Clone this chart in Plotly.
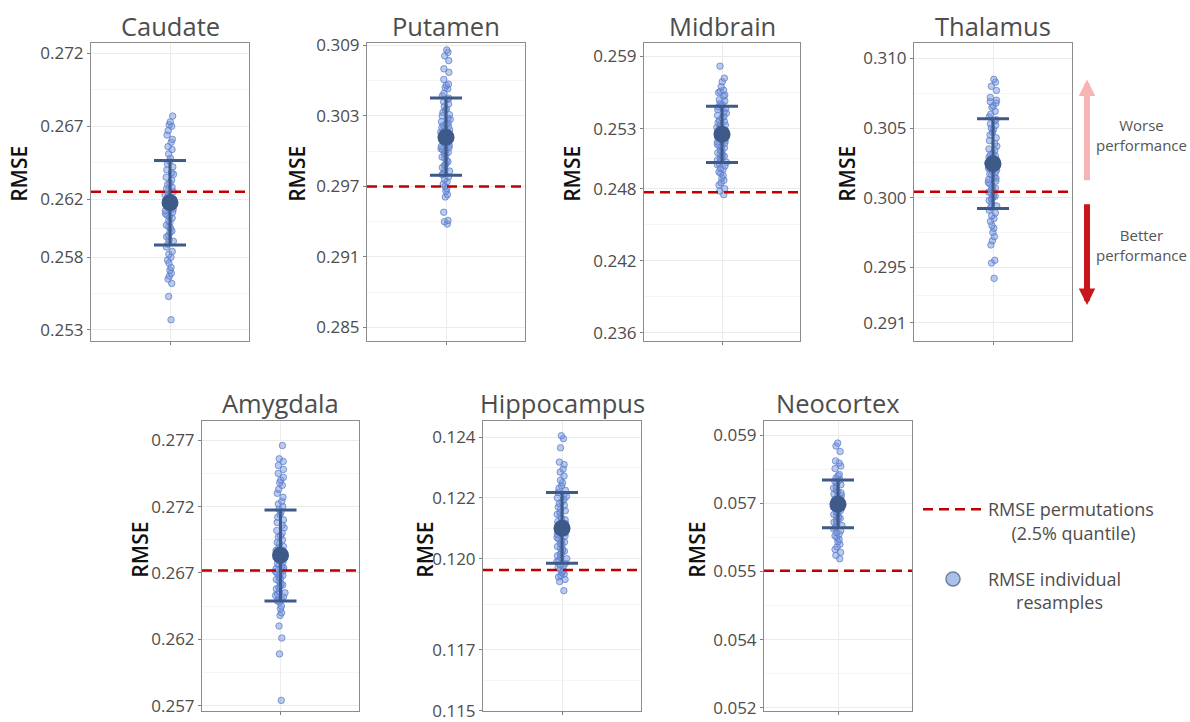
import plotly.graph_objects as go

# ---------------- data ----------------
regions = ["Caudate", "Putamen", "Midbrain", "Thalamus", "Amygdala", "Hippocampus", "Neocortex"]

tick_values = [
    [0.253, 0.258, 0.262, 0.267, 0.272],
    [0.285, 0.291, 0.297, 0.303, 0.309],
    [0.236, 0.242, 0.248, 0.253, 0.259],
    [0.291, 0.295, 0.300, 0.305, 0.310],
    [0.257, 0.262, 0.267, 0.272, 0.277],
    [0.115, 0.117, 0.120, 0.122, 0.124],
    [0.0522, 0.0538, 0.0554, 0.0570, 0.0586],
]
tick_labels = [
    ["0.253", "0.258", "0.262", "0.267", "0.272"],
    ["0.285", "0.291", "0.297", "0.303", "0.309"],
    ["0.236", "0.242", "0.248", "0.253", "0.259"],
    ["0.291", "0.295", "0.300", "0.305", "0.310"],
    ["0.257", "0.262", "0.267", "0.272", "0.277"],
    ["0.115", "0.117", "0.120", "0.122", "0.124"],
    ["0.052", "0.054", "0.055", "0.057", "0.059"],
]

perm_threshold = [0.26250, 0.29700, 0.24771, 0.30042, 0.26718, 0.11963, 0.05542]
mean_rmse = [0.26175, 0.30118, 0.25253, 0.30244, 0.26833, 0.12100, 0.05698]
ci_lower = [0.25883, 0.29794, 0.25019, 0.29922, 0.26488, 0.11985, 0.05643]
ci_upper = [0.26464, 0.30452, 0.25487, 0.30566, 0.27175, 0.12218, 0.05755]

resamples_caudate = [
    0.2677, 0.2673, 0.2671, 0.2670, 0.2667, 0.2664, 0.2661, 0.2659, 0.2656, 0.2654, 0.2651, 0.2648,
    0.2646, 0.2644, 0.2642, 0.2640, 0.2638, 0.2637, 0.2635, 0.2633, 0.2631, 0.2630, 0.2628, 0.2627,
    0.2626, 0.2625, 0.2624, 0.2623, 0.2622, 0.2621, 0.2620, 0.2619, 0.2618, 0.2617, 0.2616, 0.2616,
    0.2615, 0.2614, 0.2613, 0.2612, 0.2611, 0.2610, 0.2609, 0.2608, 0.2607, 0.2605, 0.2604, 0.2602,
    0.2601, 0.2600, 0.2598, 0.2597, 0.2595, 0.2594, 0.2592, 0.2591, 0.2589, 0.2587, 0.2584, 0.2582,
    0.2580, 0.2578, 0.2576, 0.2573, 0.2571, 0.2569, 0.2567, 0.2565, 0.2562, 0.2553, 0.2537,
]
resamples_putamen = [
    0.3086, 0.3084, 0.3081, 0.3077, 0.3070, 0.3067, 0.3061, 0.3057, 0.3056, 0.3054, 0.3053, 0.3049,
    0.3047, 0.3045, 0.3044, 0.3042, 0.3040, 0.3038, 0.3036, 0.3035, 0.3033, 0.3031, 0.3030, 0.3028,
    0.3027, 0.3025, 0.3024, 0.3023, 0.3022, 0.3021, 0.3020, 0.3019, 0.3018, 0.3017, 0.3016, 0.3015,
    0.3014, 0.3013, 0.3012, 0.3011, 0.3010, 0.3009, 0.3008, 0.3007, 0.3006, 0.3005, 0.3004, 0.3003,
    0.3002, 0.3001, 0.3000, 0.2999, 0.2998, 0.2997, 0.2995, 0.2994, 0.2992, 0.2991, 0.2989, 0.2988,
    0.2986, 0.2984, 0.2983, 0.2981, 0.2980, 0.2978, 0.2976, 0.2974, 0.2972, 0.2970, 0.2968, 0.2966,
    0.2963, 0.2961, 0.2948, 0.2941, 0.2940, 0.2938,
]
resamples_midbrain = [
    0.2582, 0.2572, 0.2569, 0.2565, 0.2562, 0.2561, 0.2560, 0.2558, 0.2557, 0.2554, 0.2553, 0.2551,
    0.2550, 0.2549, 0.2548, 0.2547, 0.2546, 0.2544, 0.2543, 0.2541, 0.2540, 0.2539, 0.2537, 0.2536,
    0.2535, 0.2534, 0.2533, 0.2532, 0.2531, 0.2530, 0.2529, 0.2528, 0.2527, 0.2526, 0.2525, 0.2524,
    0.2523, 0.2522, 0.2521, 0.2520, 0.2519, 0.2518, 0.2517, 0.2516, 0.2515, 0.2514, 0.2512, 0.2511,
    0.2510, 0.2509, 0.2508, 0.2507, 0.2506, 0.2505, 0.2504, 0.2503, 0.2502, 0.2501, 0.2500, 0.2499,
    0.2497, 0.2496, 0.2494, 0.2493, 0.2491, 0.2489, 0.2487, 0.2485, 0.2483, 0.2480, 0.2478, 0.2475,
]
resamples_thalamus = [
    0.3085, 0.3083, 0.3080, 0.3077, 0.3072, 0.3070, 0.3069, 0.3068, 0.3066, 0.3065, 0.3062, 0.3060,
    0.3058, 0.3056, 0.3055, 0.3053, 0.3052, 0.3050, 0.3049, 0.3047, 0.3045, 0.3043, 0.3041, 0.3039,
    0.3037, 0.3035, 0.3034, 0.3032, 0.3031, 0.3030, 0.3029, 0.3028, 0.3027, 0.3026, 0.3025, 0.3024,
    0.3023, 0.3022, 0.3021, 0.3020, 0.3019, 0.3018, 0.3017, 0.3016, 0.3015, 0.3014, 0.3013, 0.3012,
    0.3011, 0.3010, 0.3008, 0.3007, 0.3006, 0.3005, 0.3004, 0.3003, 0.3002, 0.3001, 0.3000, 0.2999,
    0.2998, 0.2996, 0.2994, 0.2993, 0.2991, 0.2989, 0.2987, 0.2985, 0.2983, 0.2980, 0.2978, 0.2975,
    0.2972, 0.2969, 0.2966, 0.2955, 0.2953, 0.2942,
]
resamples_amygdala = [
    0.2766, 0.2756, 0.2754, 0.2751, 0.2748, 0.2745, 0.2742, 0.2740, 0.2738, 0.2736, 0.2733, 0.2730,
    0.2727, 0.2724, 0.2722, 0.2720, 0.2718, 0.2716, 0.2714, 0.2712, 0.2710, 0.2708, 0.2706, 0.2704,
    0.2702, 0.2700, 0.2698, 0.2697, 0.2695, 0.2693, 0.2692, 0.2690, 0.2689, 0.2687, 0.2686, 0.2684,
    0.2683, 0.2682, 0.2681, 0.2679, 0.2678, 0.2677, 0.2676, 0.2675, 0.2674, 0.2673, 0.2672, 0.2671,
    0.2670, 0.2669, 0.2668, 0.2667, 0.2666, 0.2665, 0.2664, 0.2662, 0.2661, 0.2660, 0.2659, 0.2658,
    0.2656, 0.2655, 0.2654, 0.2653, 0.2652, 0.2651, 0.2650, 0.2649, 0.2648, 0.2645, 0.2643, 0.2640,
    0.2638, 0.2630, 0.2621, 0.2609, 0.2574,
]
resamples_hippocampus = [
    0.12405, 0.12395, 0.12365, 0.12318, 0.12310, 0.12295, 0.12285, 0.12272, 0.12258, 0.12250,
    0.12240, 0.12232, 0.12225, 0.12218, 0.12212, 0.12205, 0.12200, 0.12195, 0.12188, 0.12182,
    0.12176, 0.12170, 0.12164, 0.12158, 0.12152, 0.12146, 0.12140, 0.12134, 0.12128, 0.12122,
    0.12116, 0.12110, 0.12105, 0.12100, 0.12095, 0.12090, 0.12085, 0.12080, 0.12075, 0.12070,
    0.12065, 0.12060, 0.12055, 0.12050, 0.12045, 0.12040, 0.12035, 0.12030, 0.12025, 0.12020,
    0.12015, 0.12010, 0.12005, 0.12000, 0.11995, 0.11990, 0.11985, 0.11980, 0.11975, 0.11970,
    0.11965, 0.11960, 0.11955, 0.11950, 0.11945, 0.11940, 0.11932, 0.11925, 0.11895,
]
resamples_neocortex = [
    0.05842, 0.05835, 0.05822, 0.05800, 0.05795, 0.05788, 0.05782, 0.05768, 0.05765, 0.05760,
    0.05756, 0.05752, 0.05748, 0.05744, 0.05740, 0.05736, 0.05732, 0.05728, 0.05725, 0.05722,
    0.05719, 0.05716, 0.05713, 0.05710, 0.05707, 0.05704, 0.05701, 0.05698, 0.05695, 0.05692,
    0.05689, 0.05686, 0.05683, 0.05680, 0.05677, 0.05674, 0.05671, 0.05668, 0.05665, 0.05662,
    0.05659, 0.05656, 0.05652, 0.05648, 0.05644, 0.05640, 0.05636, 0.05632, 0.05628, 0.05624,
    0.05620, 0.05615, 0.05610, 0.05604, 0.05598, 0.05592, 0.05585, 0.05578, 0.05570,
]
resamples = [resamples_caudate, resamples_putamen, resamples_midbrain, resamples_thalamus,
             resamples_amygdala, resamples_hippocampus, resamples_neocortex]

# ---------------- layout constants (pixels / styles) ----------------
W, H = 1190, 722
# vertical pixel positions are given in target-picture pixels and mapped through the
# capture's vertical offset/scale
Y_OFF, Y_SCALE = 9.2, 0.978


def vy(y_px):
    return min(max((y_px - Y_OFF) / Y_SCALE, 0.0), float(H))


def paper_y(y_px):
    return 1 - vy(y_px) / H


panel_px_x = [(91, 249), (367, 525), (644, 800), (914, 1072), (202, 359), (483, 641), (764, 912)]
panel_px_y = [(43, 343)] * 4 + [(424, 730)] * 3
y_ranges = [
    (0.25225, 0.27275), (0.28386, 0.30923), (0.23534, 0.26016), (0.28971, 0.31114),
    (0.25660, 0.27842), (0.11499, 0.12452), (0.05212, 0.05893),
]
rmse_title_px = [(19, 175), (297, 175), (572, 175), (847, 175), (140, 553), (425, 553), (697, 553)]
title_y_px = [26] * 4 + [406] * 3
X_RANGE = (-1.0, 1.0)

FONT = "Open Sans"
PT_FILL = "rgba(120,152,222,0.5)"
PT_LINE = "rgba(85,120,200,0.7)"
MEAN_COL = "#3d5a89"
RED = "#c00000"

fig = go.Figure()
layout = dict(
    width=W, height=H, margin=dict(l=0, r=0, t=0, b=0),
    paper_bgcolor="white", plot_bgcolor="white",
    font=dict(family=FONT, color="#4d4d4d"),
    showlegend=True,
)
annotations = []

for i, reg in enumerate(regions):
    k = i + 1
    xa = "x" if k == 1 else f"x{k}"
    ya = "y" if k == 1 else f"y{k}"
    x0, x1 = panel_px_x[i]
    yt, yb = panel_px_y[i]
    tv = tick_values[i]
    minor_vals = [(tv[j] + tv[j + 1]) / 2 for j in range(len(tv) - 1)]

    layout[f"xaxis{k}" if k > 1 else "xaxis"] = dict(
        domain=[x0 / W, x1 / W], anchor=ya, range=list(X_RANGE),
        tickmode="array", tickvals=[0], ticktext=[""], ticks="outside", ticklen=3,
        tickcolor="#7f7f7f", showgrid=True, gridcolor="#ebebeb", gridwidth=1,
        zeroline=False, showline=True, linecolor="#8c8c8c", linewidth=1, mirror=True,
        fixedrange=True,
    )
    layout[f"yaxis{k}" if k > 1 else "yaxis"] = dict(
        domain=[paper_y(yb), paper_y(yt)], anchor=xa, range=list(y_ranges[i]),
        tickmode="array", tickvals=tv, ticktext=tick_labels[i], ticks="outside", ticklen=3,
        tickcolor="#7f7f7f", tickfont=dict(size=17, color="#4d4d4d", family=FONT),
        ticklabeloverflow="allow",
        showgrid=True, gridcolor="#ebebeb", gridwidth=1, zeroline=False,
        minor=dict(tickmode="array", tickvals=minor_vals, showgrid=True,
                   gridcolor="#f5f5f5", gridwidth=1, ticks=""),
        showline=True, linecolor="#8c8c8c", linewidth=1, mirror=True, fixedrange=True,
    )

    vals = resamples[i]
    fig.add_trace(go.Box(
        y=vals, x=[0.0] * len(vals), xaxis=xa, yaxis=ya, name=reg,
        boxpoints="all", jitter=0.45, pointpos=0, width=0.3,
        fillcolor="rgba(0,0,0,0)", line=dict(width=0, color="rgba(0,0,0,0)"),
        marker=dict(size=6.5, color=PT_FILL, line=dict(color=PT_LINE, width=1)),
        showlegend=False, hoveron="points",
    ))
    fig.add_trace(go.Scatter(
        x=[0.0], y=[mean_rmse[i]], xaxis=xa, yaxis=ya, mode="markers",
        marker=dict(size=17, color=MEAN_COL),
        error_y=dict(type="data", symmetric=False,
                     array=[ci_upper[i] - mean_rmse[i]],
                     arrayminus=[mean_rmse[i] - ci_lower[i]],
                     color=MEAN_COL, thickness=3, width=16),
        showlegend=False,
    ))
    fig.add_trace(go.Scatter(
        x=list(X_RANGE), y=[perm_threshold[i]] * 2, xaxis=xa, yaxis=ya, mode="lines",
        line=dict(color=RED, width=2.5, dash="10px,6px"),
        name="RMSE permutations<br>" + "\u00a0" * 5 + "(2.5% quantile)",
        legendgroup="perm", showlegend=(i == 0),
    ))

    annotations.append(dict(
        text=reg, xref="paper", yref="paper", x=((x0 + x1) / 2) / W, y=paper_y(title_y_px[i]),
        xanchor="center", yanchor="middle", showarrow=False,
        font=dict(size=25.5, color="#4d4d4d", family=FONT),
    ))
    rx, ry = rmse_title_px[i]
    annotations.append(dict(
        text="RMSE", xref="paper", yref="paper", x=rx / W, y=paper_y(ry),
        xanchor="center", yanchor="middle", showarrow=False, textangle=-90,
        font=dict(size=21, color="#111111", family=FONT, weight=600),
    ))

# legend entry for the individual resamples
fig.add_trace(go.Scatter(
    x=[None], y=[None], mode="markers",
    marker=dict(size=14, color="#a9c1ea", line=dict(color="#6d7fa3", width=1.5)),
    name="RMSE individual<br>" + "\u00a0" * 6 + "resamples",
    legendgroup="pts", showlegend=True,
))

layout["legend"] = dict(
    x=918 / W, y=paper_y(494), xanchor="left", yanchor="top",
    font=dict(size=18, color="#4d4d4d", family=FONT),
    bgcolor="rgba(0,0,0,0)", tracegroupgap=20, traceorder="grouped",
    itemwidth=60, valign="top",
)

# performance arrows
ARROW_X = 1087
annotations.append(dict(
    text="", xref="paper", yref="paper", x=ARROW_X / W, y=paper_y(80),
    ax=0, ay=vy(180) - vy(80),
    showarrow=True, arrowhead=2, arrowsize=0.55, arrowwidth=6, arrowcolor="#f7b4b4",
))
annotations.append(dict(
    text="", xref="paper", yref="paper", x=ARROW_X / W, y=paper_y(307),
    ax=0, ay=vy(207) - vy(307),
    showarrow=True, arrowhead=2, arrowsize=0.55, arrowwidth=6, arrowcolor="#c8161d",
))
annotations.append(dict(
    text="Worse<br>performance", xref="paper", yref="paper", x=1141 / W, y=paper_y(136),
    xanchor="center", yanchor="middle", showarrow=False, align="center",
    font=dict(size=15, color="#555555", family=FONT),
))
annotations.append(dict(
    text="Better<br>performance", xref="paper", yref="paper", x=1141 / W, y=paper_y(247),
    xanchor="center", yanchor="middle", showarrow=False, align="center",
    font=dict(size=15, color="#555555", family=FONT),
))

layout["annotations"] = annotations
fig.update_layout(**layout)

page_fix = (
    "var h=document.documentElement.style;h.margin='0';h.padding='0';h.overflow='hidden';h.height='722px';"
    "var b=document.body.style;b.margin='0';b.padding='0';b.overflow='hidden';b.height='722px';"
    "var g=document.getElementById('{plot_id}');g.style.position='fixed';g.style.top='0px';g.style.left='0px';"
)
fig.write_html("out.html", config={"displayModeBar": False}, post_script=page_fix)
